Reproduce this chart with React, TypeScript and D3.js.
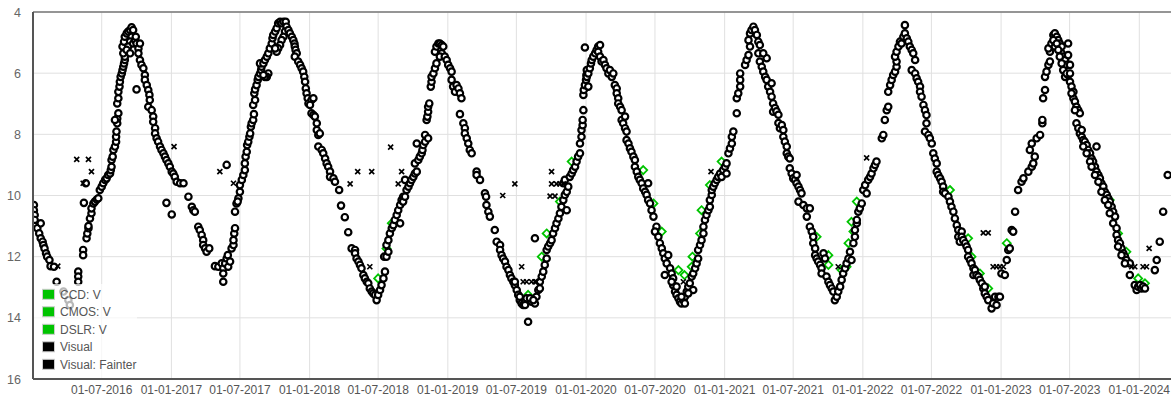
import React from 'react';
import * as d3 from 'd3';

// Days since 2016-01-01 (UTC) and V magnitude
const START = Date.UTC(2016, 0, 1);
const DAY = 86400000;

const visual: [number, number][] = [
  [3,10.31],[3,10.48],[5,10.64],[5,10.80],[5,11.00],[12,11.07],[21,10.91],[17,11.24],[21,11.40],[26,11.51],[28,11.62],[31,11.73],[35,11.89],[38,12.00],[44,12.11],[47,12.31],[56,12.33],[63,12.82],
  [81,13.14],[94,13.42],[98,13.58],
  [120,12.49],[120,12.65],[120,12.82],[133,11.78],[133,11.95],[142,11.40],[144,11.24],[147,11.07],[147,11.00],[151,10.75],[155,10.58],[155,10.42],[160,10.26],[164,10.20],[169,10.13],[173,10.09],[135,10.24],[140,9.60],
  [177,9.82],[182,9.71],[186,9.60],[191,9.49],[195,9.44],[199,9.33],[204,9.28],[206,9.17],[208,9.06],[208,8.84],[211,8.73],[213,8.51],[217,8.40],[220,8.24],[220,8.08],[221,7.91],[223,7.64],[223,7.48],[226,7.31],[217,7.53],[223,6.99],[226,6.82],[226,6.61],[229,6.44],[230,6.28],[232,6.12],[235,6.01],[237,5.90],[239,5.79],[241,5.68],[243,5.57],[243,5.46],[239,5.35],[237,5.13],[241,4.97],[243,4.81],[248,4.70],[252,4.64],[257,4.59],[261,4.50],[265,4.59],[261,4.81],[257,4.97],[252,5.13],[248,5.24],[257,5.35],[265,5.03],[270,4.92],[272,4.81],[274,5.03],[279,5.19],[283,5.03],[279,5.35],[283,5.57],[287,5.73],[292,5.84],[274,6.53],[296,6.06],[296,6.22],[301,6.39],[305,6.55],[308,6.71],[309,6.88],[305,7.10],[314,7.21],[318,7.42],[318,7.59],[323,7.80],[323,7.97],[327,8.13],[331,8.24],[336,8.40],[340,8.51],[345,8.62],[349,8.73],[353,8.84],[358,8.95],[362,9.06],[367,9.22],[371,9.28],[375,9.39],[380,9.55],[389,9.60],[398,9.60],[411,10.04],[353,10.24],[367,10.62],[420,10.37],[424,10.48],[428,10.53],[437,11.02],[441,11.13],[446,11.29],[450,11.46],[450,11.62],[455,11.73],[459,11.84],[466,11.73],[481,12.31],[490,12.33],
  [499,12.22],[503,12.38],[503,12.55],[508,12.22],[512,12.06],[515,11.95],[516,12.33],[521,12.16],[503,12.82],[525,11.73],[530,11.62],[530,11.46],[532,11.24],[534,11.07],[534,10.53],[538,10.26],[543,10.09],[541,10.20],[547,9.88],[547,9.66],[552,9.49],[556,9.33],[560,9.17],[560,8.95],[562,8.73],[565,8.57],[566,8.35],[569,8.24],[572,8.08],[574,7.97],[576,7.75],[578,7.64],[582,7.53],[584,7.34],[582,7.04],[587,6.88],[585,6.66],[587,6.53],[591,6.39],[594,6.22],[596,6.12],[600,6.01],[603,5.90],[604,5.79],[600,5.68],[609,5.68],[613,5.57],[618,5.46],[622,5.35],[622,6.01],[618,6.12],[613,6.12],[609,6.06],[626,5.19],[631,5.03],[633,4.86],[635,4.75],[640,4.64],[644,4.53],[648,4.37],[653,4.32],[657,4.37],[662,4.32],[668,4.32],[670,4.48],[666,4.64],[662,4.81],[657,4.92],[653,5.08],[648,5.19],[644,5.30],[640,5.19],[675,4.59],[679,4.70],[684,4.81],[688,4.92],[691,5.03],[692,5.13],[694,5.24],[697,5.35],[692,5.46],[701,5.62],[706,5.73],[710,5.84],[714,5.95],[717,6.12],[719,6.28],[721,6.50],[723,6.66],[726,6.82],[728,6.99],[736,6.88],[741,6.82],[732,7.04],[736,7.31],[741,7.37],[745,7.42],[750,7.64],[750,7.86],[754,8.02],[758,7.97],[754,8.40],[763,8.51],[767,8.62],[772,8.79],[776,8.95],[780,9.06],[785,9.22],[785,9.39],[794,9.44],[798,9.55],[809,9.82],[814,10.33],[824,10.71],[833,11.20],[842,11.73],[851,11.78],[851,11.89],[855,12.06],[860,12.16],[864,12.27],[868,12.38],[873,12.60],[877,12.71],[882,12.82],[886,12.87],[890,13.04],[895,13.14],[899,13.20],[904,13.25],[908,13.42],[912,13.25],[917,13.09],[921,12.93],[926,12.71],[930,12.49],[928,12.00],[934,12.00],[939,11.84],[934,11.62],[939,11.46],[943,11.24],[948,11.07],[952,10.97],[956,10.80],[961,10.64],[965,10.48],[970,10.31],[974,10.15],[978,10.04],[983,9.49],[970,10.91],[512,9.00],
  [978,10.20],[983,10.04],[987,9.82],[992,9.71],[996,9.60],[1000,9.49],[1005,9.39],[1009,9.28],[1014,9.22],[1009,8.95],[1018,8.84],[1022,8.73],[1027,8.62],[1029,8.51],[1031,8.35],[1036,8.24],[1036,8.02],[1014,8.30],[1044,8.13],[1040,7.53],[1042,7.42],[1044,7.26],[1044,7.10],[1047,6.99],[1051,6.44],[1053,6.28],[1053,6.12],[1058,6.01],[1062,5.84],[1066,5.68],[1062,5.30],[1066,5.13],[1071,5.03],[1075,5.03],[1080,5.08],[1084,5.13],[1080,5.35],[1075,5.46],[1088,5.46],[1093,5.57],[1097,5.73],[1102,5.84],[1106,5.95],[1106,6.22],[1110,6.44],[1115,6.61],[1119,6.39],[1124,6.50],[1128,6.66],[1132,6.82],[1128,7.34],[1137,7.64],[1141,7.80],[1141,7.97],[1146,8.13],[1150,8.30],[1154,8.51],[1159,8.62],[1172,9.22],[1172,9.33],[1181,9.49],[1194,9.93],[1197,10.04],[1198,10.31],[1203,10.53],[1207,10.69],[1220,11.13],[1225,11.51],[1234,11.62],[1234,11.78],[1238,11.95],[1242,12.06],[1247,12.16],[1251,12.33],[1256,12.44],[1260,12.60],[1264,12.71],[1269,12.82],[1273,12.93],[1278,13.09],[1282,13.25],[1286,13.42],[1291,13.53],[1295,13.58],[1300,13.47],[1304,13.36],[1308,14.13],[1317,13.47],[1326,13.53],[1330,13.31],[1326,11.40],[1335,13.09],[1339,12.82],[1344,12.65],[1348,12.49],[1352,12.27],[1357,12.06],[1357,11.78],[1361,11.67],[1366,11.56],[1370,11.46],[1374,11.24],[1379,11.07],[1383,10.91],[1388,10.75],[1392,10.58],[1396,10.37],[1401,10.15],[1405,9.98],[1410,9.88],[1401,9.60],[1405,9.49],[1414,9.71],[1410,10.48],[1418,9.39],[1423,9.28],[1427,9.17],[1432,9.06],[1436,8.89],[1440,8.73],[1445,8.62],[1445,8.30],[1449,8.08],[1449,7.86],[1452,7.70],[1452,7.53],[1454,7.21],[1454,6.71],[1455,6.55],[1458,6.39],[1461,6.22],[1462,6.06],[1467,5.90],[1458,5.16],
  [1273,12.82],[1286,13.31],[1300,13.58],[1313,13.36],[1322,13.42],[1339,13.04],
  [1463,5.90],[1463,6.12],[1467,6.44],[1467,6.01],[1471,5.84],[1474,5.68],[1476,5.57],[1480,5.46],[1485,5.35],[1489,5.24],[1493,5.13],[1498,5.08],[1493,5.30],[1498,5.46],[1502,5.62],[1507,5.57],[1511,5.73],[1515,5.84],[1520,6.01],[1524,5.90],[1529,6.12],[1533,6.01],[1537,6.39],[1542,6.50],[1542,6.66],[1546,6.82],[1546,6.99],[1551,7.10],[1555,7.21],[1555,7.53],[1559,7.64],[1564,7.42],[1564,7.80],[1568,7.91],[1568,8.19],[1573,8.30],[1577,8.46],[1581,8.57],[1586,8.73],[1590,8.84],[1590,9.06],[1595,9.22],[1599,9.39],[1603,9.49],[1608,9.60],[1612,9.77],[1617,9.88],[1621,9.98],[1625,10.15],[1630,10.26],[1634,10.48],[1639,10.69],[1625,9.60],[1647,11.02],[1643,11.18],[1652,11.35],[1656,11.56],[1661,11.73],[1665,11.89],[1669,12.06],[1674,12.22],[1669,12.60],[1678,11.95],[1683,12.38],[1687,12.55],[1691,12.71],[1691,12.93],[1696,13.14],[1700,13.25],[1705,13.36],[1709,13.47],[1713,13.53],[1718,13.42],[1722,13.31],[1727,13.14],[1731,12.98],[1735,12.87],[1740,12.65],[1744,12.55],[1744,13.09],[1749,12.38],[1753,12.22],[1757,12.06],[1757,11.78],[1762,11.62],[1766,11.46],[1771,11.24],[1771,11.02],[1775,10.80],[1779,10.64],[1784,10.48],[1788,10.37],[1788,10.15],[1793,9.98],[1793,9.82],[1797,9.71],[1801,9.60],[1806,9.49],[1810,9.39],[1815,9.28],[1819,9.39],[1823,9.17],[1828,9.06],[1832,8.95],[1832,9.28],[1837,8.62],[1841,8.46],[1846,8.30],[1846,8.08],[1850,7.91],[1859,7.31],[1859,6.82],[1863,6.66],[1868,6.44],[1868,6.22],[1868,6.01],[1881,5.73],[1885,5.57],[1890,5.41],[1894,5.13],[1890,4.92],[1894,4.70],[1898,4.59],[1903,4.48],[1907,4.59],[1912,4.75],[1916,4.97],[1920,5.08],[1916,5.35],[1920,5.62],[1925,5.79],[1929,5.95],[1934,6.12],[1938,6.22],[1942,6.44],[1947,6.61],[1951,6.77],[1955,6.99],[1955,7.26],[1951,6.33],[1938,5.51],[1929,5.35],
  [1687,12.82],[1700,12.98],[1713,13.31],[1722,13.53],[1731,13.20],
  [1960,7.14],[1964,7.25],[1969,7.36],[1969,7.63],[1973,7.80],[1978,7.70],[1982,7.86],[1982,8.08],[1986,8.24],[1991,8.40],[1991,8.62],[1995,8.73],[1999,8.79],[1999,9.11],[2004,9.28],[2008,9.44],[2013,9.49],[2017,9.33],[2017,9.60],[2022,9.71],[2026,9.82],[2030,9.93],[2022,10.20],[2035,10.31],[2044,10.42],[2052,10.42],[2044,10.69],[2052,11.02],[2057,11.18],[2061,11.35],[2061,11.56],[2066,11.73],[2066,11.95],[2070,12.06],[2074,12.16],[2079,12.27],[2083,12.38],[2083,12.55],[2088,11.89],[2092,12.06],[2096,12.65],[2101,12.82],[2105,12.93],[2110,13.04],[2114,13.14],[2118,13.42],[2123,13.31],[2127,13.14],[2132,12.98],[2136,12.76],[2140,12.55],[2145,12.38],[2149,12.22],[2154,12.06],[2158,11.84],[2162,12.11],[2167,11.56],[2171,11.35],[2171,11.13],[2176,10.91],[2176,10.80],[2180,10.53],[2184,10.42],[2189,10.26],[2193,9.82],[2198,9.66],[2202,9.93],[2206,9.49],[2211,9.39],[2215,9.28],[2220,9.11],[2224,9.00],[2228,8.89],[2242,8.13],[2246,8.02],[2250,7.53],[2255,7.21],[2259,7.10],[2259,6.61],[2264,6.39],[2268,6.22],[2272,6.06],[2277,5.95],[2281,5.79],[2281,5.62],[2277,5.46],[2281,5.30],[2286,5.13],[2290,4.97],[2294,5.03],[2299,4.81],[2303,4.70],[2303,4.43],[2308,4.86],[2312,4.97],[2316,5.13],[2321,5.24],[2325,5.35],[2330,5.57],[2321,5.90],[2330,6.01],[2334,6.17],[2338,6.28],[2343,6.44],[2343,6.61],[2347,6.77],[2352,7.04],[2356,7.21],[2360,7.37],[2360,7.64],[2356,7.91],[2365,8.02],[2369,8.13],[2374,8.30],[2378,8.62],[2382,8.79],[2387,8.95],[2387,9.22],[2391,9.33],[2396,9.44],[2400,9.55],[2404,9.71],[2404,9.88],[2409,9.93],[2418,10.04],[2422,10.20],[2426,10.37],[2431,10.53],[2435,10.75],[2440,10.97],[2444,11.13],[2444,11.35],[2448,11.51],
  [2453,11.18],[2453,11.35],[2457,11.46],[2462,11.56],[2466,11.67],[2470,11.78],[2470,12.00],[2475,12.11],[2479,12.22],[2484,12.38],[2484,12.60],[2488,12.44],[2492,12.60],[2497,12.65],[2501,12.76],[2506,12.87],[2510,13.04],[2514,12.98],[2514,13.20],[2519,13.31],[2523,13.42],[2532,13.69],[2536,13.53],[2541,13.31],[2545,13.58],[2550,13.31],[2554,13.31],[2558,12.55],[2567,12.60],[2572,12.11],[2576,11.78],[2580,11.73],[2585,11.13],[2589,11.18],[2594,10.53],[2602,9.82],[2611,9.55],[2616,9.44],[2629,9.22],[2638,9.06],[2642,8.95],[2646,8.73],[2638,8.30],[2633,8.51],[2651,8.13],[2660,8.02],[2666,7.64],[2666,7.53],[2668,6.82],[2673,6.55],[2673,6.12],[2677,5.95],[2682,5.73],[2686,5.62],[2686,5.30],[2682,5.19],[2690,5.03],[2695,4.75],[2699,4.70],[2704,4.81],[2708,4.92],[2699,5.13],[2712,5.03],[2717,5.13],[2717,5.35],[2721,5.46],[2726,5.57],[2730,5.73],[2721,5.90],[2726,6.12],[2734,5.03],[2734,5.41],[2739,5.73],[2734,6.06],[2739,6.28],[2743,6.44],[2748,6.61],[2748,6.82],[2752,6.93],[2756,7.10],[2761,7.21],[2765,7.31],[2756,7.64],[2761,7.80],[2765,7.97],[2770,8.08],[2774,8.19],[2778,8.24],[2783,8.35],[2787,8.51],[2792,8.62],[2796,8.79],[2800,8.89],[2805,9.06],[2809,8.40],[2809,9.22],[2814,9.33],[2818,9.44],[2822,9.60],[2827,9.71],[2831,9.88],[2836,9.98],[2840,10.09],[2844,10.20],[2849,10.37],[2853,10.53],[2858,10.69],[2853,10.91],[2862,11.07],[2862,11.29],[2866,11.46],[2871,11.56],[2875,11.73],[2880,11.89],[2884,12.00],[2888,12.11],[2897,12.22],[2897,12.60],[2910,12.93],[2915,13.09],[2919,12.98],[2924,12.93],[2928,13.04],[2932,12.98],[2937,13.04],[2963,12.44],[2968,12.11],[2976,11.51],[2985,10.53],[2997,9.33],
  [2695,4.92],[2704,5.03],[2708,5.24],[2712,5.46],[2717,5.68],[2730,6.01],[2739,6.01],[2743,6.66],[2752,7.21],[2770,7.86],[2774,8.40],[2783,8.62],[2792,8.89],[2796,9.06],[2805,9.33],[2814,9.55],[2822,9.88],[2831,10.15],[2840,10.31],[2844,10.58],[2866,11.67],[2875,11.95],[2884,12.22]
];

const fainter: [number, number][] = [
  [66,12.31],[116,8.82],[147,8.82],[155,9.22],[133,9.60],[373,8.40],
  [494,9.22],[530,9.60],[838,9.62],[858,9.22],[895,9.22],[945,8.42],[974,9.22],[965,9.62],[890,12.33],
  [1241,10.00],[1273,9.62],[1291,12.33],[1295,12.82],[1304,12.82],[1317,12.82],[1326,12.82],[1330,12.82],[1370,9.22],[1370,9.62],[1383,9.62],[1392,9.62],[1401,9.62],[1366,10.02],[1379,10.02],
  [1791,9.22],[1718,12.82],[2202,8.77],[2127,12.33],
  [2510,11.22],[2523,11.22],[2536,12.33],[2545,12.33],[2554,12.33],[2563,12.33],[2902,12.33],[2910,12.33],[2932,12.33],[2941,12.33],[2948,11.73]
];

const ccdV: [number, number][] = [
  [948,10.91],[934,11.73],[912,12.71],
  [1308,13.25],[1357,11.24],[1392,10.20],[1423,8.89],[1344,12.00],
  [1612,9.17],[1639,10.26],[1661,11.18],[1705,12.44],[1721,12.60],[1742,12.00],[1740,12.33],[1762,11.24],[1766,10.48],[1788,9.66],[1819,8.89],
  [2176,10.20],[2101,11.95],[2167,11.18],[2149,12.33],[2136,12.44],[2070,11.35],[2101,12.27],[2154,11.56],[2162,10.86],[2422,9.82],
  [2572,11.56],[2844,10.15],[2866,11.24],[2888,11.84],[2919,12.71],[2937,12.87],[2470,11.40],[2479,12.00],[2501,12.55],[2523,13.04]
];
const cmosV: [number, number][] = [];
const dslrV: [number, number][] = [];

const xTickDates = ['2016-07-01','2017-01-01','2017-07-01','2018-01-01','2018-07-01','2019-01-01','2019-07-01','2020-01-01','2020-07-01','2021-01-01','2021-07-01','2022-01-01','2022-07-01','2023-01-01','2023-07-01','2024-01-01'];
const yTicks = [4, 6, 8, 10, 12, 14, 16];
const legendLabels = ['CCD: V', 'CMOS: V', 'DSLR: V', 'Visual', 'Visual: Fainter'];
const legendColors = ['#00c400', '#00c400', '#00c400', '#000000', '#000000'];

const FONT = '"Liberation Sans", Arial, sans-serif';

export default function App() {
  const W = 1171, H = 397;
  const left = 33, top = 12, bottom = 379, right = 1200;
  const x = d3.scaleUtc()
    .domain([new Date(Date.UTC(2016, 6, 1)), new Date(Date.UTC(2024, 0, 1))])
    .range([101.7, 1139.3]);
  const y = d3.scaleLinear().domain([4, 16]).range([top, bottom]);
  const px = (d: number) => x(new Date(START + d * DAY));
  const ticks = xTickDates.map((s) => new Date(s + 'T00:00:00Z'));
  const fmt = d3.utcFormat('%d-%m-%Y');
  const diamond = 'M0,-4L4,0L0,4L-4,0Z';

  return (
    <svg width={W} height={H} style={{ position: 'absolute', left: 0, top: 0, background: '#fff' }} fontFamily={FONT}>
      <defs>
        <clipPath id="plot"><rect x={left} y={top} width={right - left} height={bottom - top} /></clipPath>
      </defs>
      <rect x={0} y={0} width={W} height={H} fill="#fff" />
      {ticks.map((t, i) => (
        <line key={'gx' + i} x1={x(t)} x2={x(t)} y1={top} y2={bottom} stroke="#e0e0e0" strokeWidth={1} />
      ))}
      {yTicks.map((v, i) => (
        <line key={'gy' + i} x1={left} x2={W} y1={y(v)} y2={y(v)} stroke="#e0e0e0" strokeWidth={1} />
      ))}
      <g clipPath="url(#plot)">
        {[...ccdV, ...cmosV, ...dslrV].map((p, i) => (
          <path key={'c' + i} d={diamond} transform={`translate(${px(p[0])},${y(p[1])})`} fill="#fff" stroke="#00c400" strokeWidth={1.8} />
        ))}
        {visual.map((p, i) => (
          <circle key={'v' + i} cx={px(p[0])} cy={y(p[1])} r={3.2} fill="#fff" stroke="#000" strokeWidth={2.2} />
        ))}
        {fainter.map((p, i) => {
          const cx = px(p[0]), cy = y(p[1]);
          return (
            <path key={'f' + i} d={`M${cx - 2.5},${cy - 2.5}L${cx + 2.5},${cy + 2.5}M${cx - 2.5},${cy + 2.5}L${cx + 2.5},${cy - 2.5}`} stroke="#000" strokeWidth={1.7} />
          );
        })}
      </g>
      <line x1={left} x2={W} y1={top} y2={top} stroke="#777" strokeWidth={1.5} />
      <line x1={left} x2={W} y1={bottom} y2={bottom} stroke="#555" strokeWidth={2} />
      <line x1={left} x2={left} y1={top} y2={bottom} stroke="#555" strokeWidth={2} />
      <rect x={left + 1} y={284} width={103} height={bottom - 285} fill="#fff" fillOpacity={0.72} />
      {legendLabels.map((l, i) => {
        const cy = 294.3 + i * 17.5;
        return (
          <g key={'l' + i}>
            <rect x={42.5} y={cy - 5} width={12} height={10} fill={legendColors[i]} stroke="#cccccc" strokeWidth={1} />
            <text x={60} y={cy + 4.3} fontSize={12} fill="#555">{l}</text>
          </g>
        );
      })}
      {yTicks.map((v, i) => (
        <text key={'yl' + i} x={21} y={y(v) + 4.5} textAnchor="end" fontSize={12.5} fill="#666">{v}</text>
      ))}
      {ticks.map((t, i) => (
        <text key={'xl' + i} x={x(t)} y={394} textAnchor="middle" fontSize={12} fill="#555">{fmt(t)}</text>
      ))}
    </svg>
  );
}
